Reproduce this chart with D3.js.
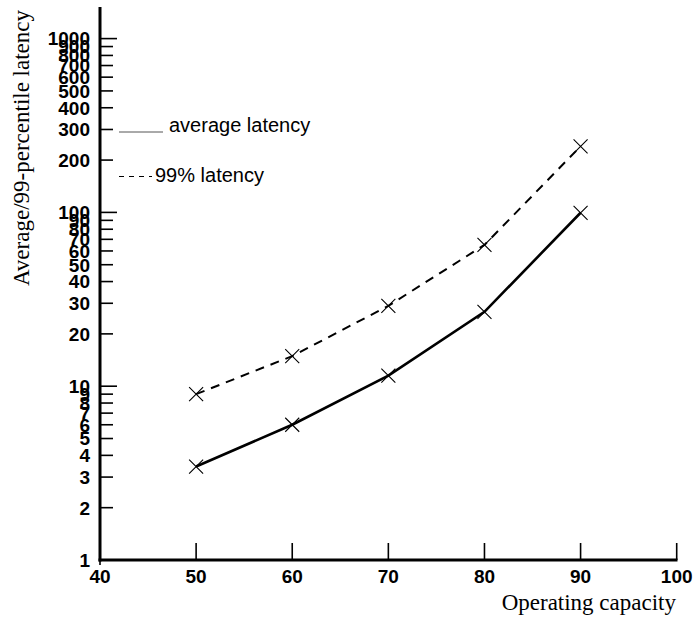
<!DOCTYPE html>
<html><head><meta charset="utf-8">
<script src="https://cdn.jsdelivr.net/npm/d3@7"></script>
<style>body{margin:0;background:#fff}svg{display:block}</style>
</head><body>
<svg id="c" width="695" height="619"></svg>
<script>
const capacity = [50, 60, 70, 80, 90];
const avgLatency = [3.45, 6.0, 11.5, 26.8, 99.5];
const p99Latency = [9.0, 14.9, 29.0, 65, 240];
const xTicks = [40, 50, 60, 70, 80, 90, 100];
const yTicks = [1,2,3,4,5,6,7,8,9,10,20,30,40,50,60,70,80,90,100,200,300,400,500,600,700,800,900,1000];
const seriesNames = ["average latency", "99% latency"];

const svg = d3.select("#c");
const x = d3.scaleLinear().domain([40, 100]).range([100, 676.7]);
const y = d3.scaleLog().domain([1, 1000]).range([560, 38.6]);

// axes lines
svg.append("line").attr("x1", 100).attr("x2", 100).attr("y1", 7).attr("y2", 561.5)
  .attr("stroke", "#000").attr("stroke-width", 3);
svg.append("line").attr("x1", 98.5).attr("x2", 677.5).attr("y1", 560).attr("y2", 560)
  .attr("stroke", "#000").attr("stroke-width", 3);

// y ticks
const major = v => [10, 100, 1000].includes(v);
svg.selectAll(".yt").data(yTicks.filter(v => v > 1)).enter().append("line")
  .attr("x1", 100).attr("x2", v => major(v) ? 117 : 113)
  .attr("y1", v => y(v)).attr("y2", v => y(v))
  .attr("stroke", "#000").attr("stroke-width", 1.6);
svg.selectAll(".yl").data(yTicks).enter().append("text")
  .attr("x", 90).attr("y", v => y(v)).attr("dy", "0.36em")
  .attr("text-anchor", "end")
  .attr("font-family", "Liberation Sans, Arial, sans-serif")
  .attr("font-weight", "bold").attr("font-size", 19)
  .text(v => v);

// x ticks
svg.selectAll(".xt").data(xTicks).enter().append("line")
  .attr("x1", v => x(v)).attr("x2", v => x(v))
  .attr("y1", v => v === 40 ? 560 : 543).attr("y2", v => v === 40 ? 565 : 560)
  .attr("stroke", "#000").attr("stroke-width", 1.6);
svg.selectAll(".xl").data(xTicks).enter().append("text")
  .attr("x", v => x(v)).attr("y", 583)
  .attr("text-anchor", "middle")
  .attr("font-family", "Liberation Sans, Arial, sans-serif")
  .attr("font-weight", "bold").attr("font-size", 19)
  .text(v => v);

// axis titles
svg.append("text").attr("x", 676).attr("y", 610).attr("text-anchor", "end")
  .attr("font-family", "Liberation Serif, Times New Roman, serif").attr("font-size", 23)
  .text("Operating capacity");
svg.append("text").attr("transform", "translate(29,148) rotate(-90)")
  .attr("text-anchor", "middle")
  .attr("font-family", "Liberation Serif, Times New Roman, serif").attr("font-size", 23)
  .text("Average/99-percentile latency");

// lines
const avgData = capacity.map((c, i) => [c, avgLatency[i]]);
const p99Data = capacity.map((c, i) => [c, p99Latency[i]]);
const line = d3.line().x(d => x(d[0])).y(d => y(d[1]));
svg.append("path").attr("d", line(avgData)).attr("fill", "none")
  .attr("stroke", "#000").attr("stroke-width", 2.6);
svg.append("path").attr("d", line(p99Data)).attr("fill", "none")
  .attr("stroke", "#000").attr("stroke-width", 2).attr("stroke-dasharray", "9,7");

// markers
const s = 7;
[avgData, p99Data].forEach(data => {
  const g = svg.append("g");
  data.forEach(d => {
    const cx = x(d[0]), cy = y(d[1]);
    g.append("path").attr("d", `M${cx-s},${cy-s}L${cx+s},${cy+s}M${cx-s},${cy+s}L${cx+s},${cy-s}`)
      .attr("stroke", "#000").attr("stroke-width", 1.1).attr("fill", "none");
  });
});

// legend
svg.append("line").attr("x1", 119).attr("x2", 163).attr("y1", 132).attr("y2", 132)
  .attr("stroke", "#555").attr("stroke-width", 1);
svg.append("text").attr("x", 169).attr("y", 132)
  .attr("font-family", "Liberation Sans, Arial, sans-serif").attr("font-size", 20)
  .text(seriesNames[0]);
svg.append("line").attr("x1", 119).attr("x2", 152).attr("y1", 176.5).attr("y2", 176.5)
  .attr("stroke", "#000").attr("stroke-width", 1.2).attr("stroke-dasharray", "5,5");
svg.append("text").attr("x", 155).attr("y", 182)
  .attr("font-family", "Liberation Sans, Arial, sans-serif").attr("font-size", 20)
  .text(seriesNames[1]);
</script>
</body></html>
